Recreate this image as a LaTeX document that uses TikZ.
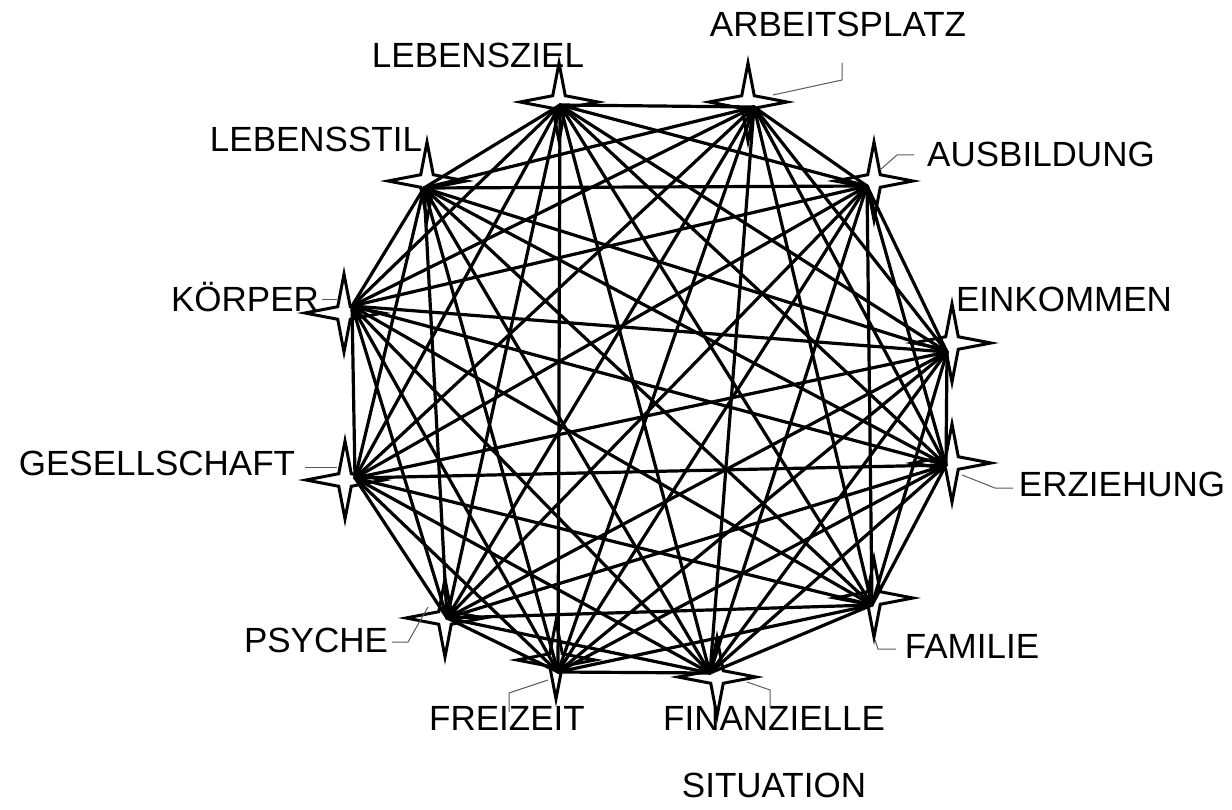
\documentclass[tikz,border=0pt]{standalone}
\usepackage{fontspec}
\setmainfont{Liberation Sans}
\usetikzlibrary{shapes.geometric}
\tikzset{
  link/.style={line width=3.2pt, line cap=round, black},
  starnode/.style={star, star points=4, star point ratio=4.4, minimum size=78pt, inner sep=0pt, draw=black, line width=3pt},
  leader/.style={draw=black!65, line width=1pt},
  lbl/.style={inner sep=0pt, anchor=base, font=\fontsize{35}{37}\selectfont}
}
\begin{document}
\begin{tikzpicture}[x=1pt,y=-1pt]
\useasboundingbox (0,0) rectangle (1232,810);
% labels
\node[lbl] (tAP) at (838,37) {ARBEITSPLATZ};
\node[lbl] (tLZ) at (478,68) {LEBENSZIEL};
\node[lbl] (tLS) at (316,152) {LEBENSSTIL};
\node[lbl] (tAB) at (1041,167) {AUSBILDUNG};
\node[lbl] (tEK) at (1064,312) {EINKOMMEN};
\node[lbl] (tEZ) at (1122,496) {ERZIEHUNG};
\node[lbl] (tKO) at (245,312) {KÖRPER};
\node[lbl] (tGE) at (157,475) {GESELLSCHAFT};
\node[lbl] (tPS) at (316,652) {PSYCHE};
\node[lbl] (tFR) at (507,730) {FREIZEIT};
\node[lbl] (tFI) at (774,730) {FINANZIELLE};
\node[lbl] (tSI) at (774,797) {SITUATION};
\node[lbl] (tFA) at (972,658) {FAMILIE};
% stars
\node[starnode] (sLZ) at (559,102) {};
\node[starnode] (sAP) at (748,102) {};
\node[starnode] (sAB) at (874,181) {};
\node[starnode] (sEK) at (952,343) {};
\node[starnode] (sEZ) at (952,463) {};
\node[starnode] (sFA) at (874,598) {};
\node[starnode] (sFI) at (717,677) {};
\node[starnode] (sFR) at (556,660) {};
\node[starnode] (sPS) at (445,618) {};
\node[starnode] (sGE) at (345,480) {};
\node[starnode] (sKO) at (344,313) {};
\node[starnode] (sLS) at (427,181) {};
% hubs
\coordinate (LZ) at (560,105);
\coordinate (AP) at (754,107);
\coordinate (AB) at (867,186);
\coordinate (EK) at (947,352);
\coordinate (EZ) at (946,465);
\coordinate (FA) at (872,605);
\coordinate (FI) at (710,673);
\coordinate (FR) at (558,672);
\coordinate (PS) at (447,618);
\coordinate (GE) at (355,478);
\coordinate (KO) at (352,306);
\coordinate (LS) at (424,188);
% leaders
\coordinate (lAP0) at (773,95); \coordinate (lAP1) at (842,80); \coordinate (lAP2) at (842,63);
\draw[leader] (lAP0) -- (lAP1) -- (lAP2);
\coordinate (lAB0) at (880,170); \coordinate (lAB1) at (897,155); \coordinate (lAB2) at (914,155);
\draw[leader] (lAB0) -- (lAB1) -- (lAB2);
\coordinate (lEZ0) at (962,475); \coordinate (lEZ1) at (995,488); \coordinate (lEZ2) at (1013,488);
\draw[leader] (lEZ0) -- (lEZ1) -- (lEZ2);
\coordinate (lFA0) at (875,640); \coordinate (lFA1) at (878,649); \coordinate (lFA2) at (896,649);
\draw[leader] (lFA0) -- (lFA1) -- (lFA2);
\coordinate (lFI0) at (747,682); \coordinate (lFI1) at (770,690); \coordinate (lFI2) at (770,708);
\draw[leader] (lFI0) -- (lFI1) -- (lFI2);
\coordinate (lFR0) at (548,680); \coordinate (lFR1) at (509,693); \coordinate (lFR2) at (509,712);
\draw[leader] (lFR0) -- (lFR1) -- (lFR2);
\coordinate (lPS0) at (428,607); \coordinate (lPS1) at (408,642); \coordinate (lPS2) at (392,642);
\draw[leader] (lPS0) -- (lPS1) -- (lPS2);
\coordinate (lGE0) at (305,467); \coordinate (lGE1) at (337,467);
\draw[leader] (lGE0) -- (lGE1);
\coordinate (lKO0) at (322,300); \coordinate (lKO1) at (337,300);
\draw[leader] (lKO0) -- (lKO1);
% links: complete graph
\foreach \a [count=\i] in {LZ,AP,AB,EK,EZ,FA,FI,FR,PS,GE,KO,LS}{
  \foreach \b [count=\j] in {LZ,AP,AB,EK,EZ,FA,FI,FR,PS,GE,KO,LS}{
    \ifnum\j>\i \draw[link] (\a) -- (\b); \fi
  }
}
\end{tikzpicture}
\end{document}
